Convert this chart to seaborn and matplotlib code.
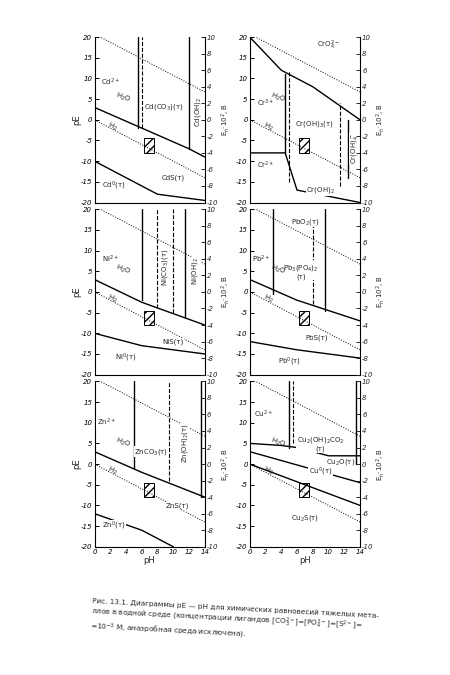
import matplotlib
matplotlib.use("Agg")
import matplotlib.pyplot as plt
import seaborn as sns
import numpy as np

sns.set_theme(style="white")
plt.rcParams['font.family'] = ['DejaVu Sans']

pH_ticks = [0, 2, 4, 6, 8, 10, 12, 14]
pE_ticks = [-20, -15, -10, -5, 0, 5, 10, 15, 20]
eh_ticks = [-10, -8, -6, -4, -2, 0, 2, 4, 6, 8, 10]

water_pH = [0, 14]
o2_pE = [20.75, 6.75]
h2_pE = [0, -14]

panels = [
    dict(solid=[([0, 6, 12, 14], [3, -2, -7, -9]), ([0, 4, 8, 14], [-10, -14, -18, -19.5]),
                ([5.5, 5.5], [-2, 20]), ([12, 12], [-7, 20])],
         dashed=[([6, 6], [-2, 20])],
         labels=[(2, 9, "Cd$^{2+}$", 0), (8.8, 3, "Cd(CO$_3$)(т)", 0), (10, -14, "CdS(т)", 0),
                 (2.5, -16, "Cd$^0$(т)", 0), (13.1, 2, "Cd(OH)$_2$", 90)]),
    dict(solid=[([0, 4, 8, 14], [20, 12, 8, 0]), ([0, 4.5, 6, 14], [-8, -8, -17, -20]),
                ([4.5, 4.5], [-8, 11]), ([12.5, 12.5], [-14, 0])],
         dashed=[([5, 5], [-15, 12]), ([11.5, 11.5], [-16, 4])],
         labels=[(2, 4, "Cr$^{3+}$", 0), (8.2, -1, "Cr(OH)$_3$(т)", 0), (2, -11, "Cr$^{2+}$", 0),
                 (9, -17, "Cr(OH)$_2$", 0), (10, 18, "CrO$_4^{2-}$", 0), (13.3, -7, "Cr(OH)$_4^-$", 90)]),
    dict(solid=[([0, 6, 14], [3, -2.5, -8]), ([0, 6, 14], [-10, -13, -15]),
                ([6, 6], [-2, 20]), ([11.5, 11.5], [-6, 20])],
         dashed=[([8, 8], [-4, 20]), ([10, 10], [-5, 20])],
         labels=[(2, 8, "Ni$^{2+}$", 0), (9, 6, "Ni(CO$_3$)(т)", 90), (10, -12, "NiS(т)", 0),
                 (4, -16, "Ni$^0$(т)", 0), (12.8, 5, "Ni(OH)$_2$", 90)]),
    dict(solid=[([0, 6, 14], [3, -2, -7]), ([0, 6, 14], [-12, -14, -16]),
                ([3, 3], [-0.5, 20]), ([9.5, 9.5], [-4.5, 20])],
         dashed=[([8, 8], [-3, 18])],
         labels=[(1.5, 8, "Pb$^{2+}$", 0), (6.5, 5, "Pb$_3$(PO$_4$)$_2$\n(т)", 0), (8.5, -11, "PbS(т)", 0),
                 (5, -17, "Pb$^0$(т)", 0), (7, 17, "PbO$_2$(т)", 0)]),
    dict(solid=[([0, 6, 14], [3, -2, -8]), ([0, 6, 10], [-12, -16, -20]),
                ([5, 5], [-1, 20]), ([13.5, 13.5], [-8, 20])],
         dashed=[([9.5, 9.5], [-4, 20])],
         labels=[(1.5, 10, "Zn$^{2+}$", 0), (7.2, 3, "ZnCO$_3$(т)", 0), (10.5, -10, "ZnS(т)", 0),
                 (2.5, -15, "Zn$^0$(т)", 0), (11.5, 5, "Zn(OH)$_2$(т)", 90)]),
    dict(solid=[([0, 4, 6, 10, 14], [5, 4.5, 4, 2, 2]), ([0, 14], [3, -4.5]),
                ([0, 14], [0, -10]), ([5, 5], [4, 20]), ([13.5, 13.5], [0, 20])],
         dashed=[([5.5, 5.5], [5, 20])],
         labels=[(1.8, 12, "Cu$^{2+}$", 0), (9, 5, "Cu$_2$(OH)$_2$CO$_2$\n(т)", 0),
                 (11.5, 0.5, "Cu$_2$O(т)", 0), (9, -2, "Cu$^0$(т)", 0), (7, -13, "Cu$_2$S(т)", 0)]),
]

fig = plt.figure(figsize=(4.5, 6.75), dpi=100)
fig.patch.set_facecolor("white")
lefts = [0.21, 0.555]
bottoms = [0.70, 0.445, 0.19]
w, h = 0.245, 0.245

for i, p in enumerate(panels):
    r, c = divmod(i, 2)
    ax = fig.add_axes([lefts[c], bottoms[r], w, h])
    ax.set_xlim(0, 14)
    ax.set_ylim(-20, 20)
    sns.lineplot(x=water_pH, y=o2_pE, ax=ax, color="black", lw=0.7, linestyle=":")
    sns.lineplot(x=water_pH, y=h2_pE, ax=ax, color="black", lw=0.7, linestyle=":")
    for xs, ys in p["solid"]:
        ax.plot(xs, ys, color="black", lw=1.0)
    for xs, ys in p["dashed"]:
        ax.plot(xs, ys, color="black", lw=0.8, linestyle="--")
    for x, y, t, rot in p["labels"]:
        ax.text(x, y, t, fontsize=5, ha="center", va="center", rotation=rot,
                bbox=dict(facecolor="white", edgecolor="none", pad=0.3))
    ax.text(2.5, 4.2, "H$_2$O", fontsize=5, rotation=-20)
    ax.text(1.5, -2.5, "H$_2$", fontsize=5, rotation=-20)
    ax.add_patch(plt.Rectangle((6.3, -8), 1.2, 3.5, fill=True, hatch="////",
                               facecolor="white", edgecolor="black", lw=0.7))
    ax.set_yticks(pE_ticks)
    ax.set_yticklabels([str(t) for t in pE_ticks], fontsize=5, style="italic")
    for s in ["top", "right"]:
        ax.spines[s].set_visible(False)
    for s in ["left", "bottom"]:
        ax.spines[s].set_linewidth(0.8)
        ax.spines[s].set_color("black")
    ax.tick_params(axis="both", direction="in", length=3, width=0.7, pad=1.5, colors="black")
    if c == 0:
        ax.set_ylabel("pE", fontsize=6, labelpad=0)
    ax.set_xticks(pH_ticks)
    if r == 2:
        ax.set_xticklabels([str(t) for t in pH_ticks], fontsize=5, style="italic")
        ax.set_xlabel("pH", fontsize=6, labelpad=1)
    else:
        ax.set_xticklabels([])
    ax2 = ax.twinx()
    ax2.set_ylim(-10, 10)
    ax2.set_yticks(eh_ticks)
    ax2.set_yticklabels([str(t) for t in eh_ticks], fontsize=5, style="italic")
    ax2.tick_params(axis="y", direction="in", length=3, width=0.7, pad=1.5)
    for s in ["top", "left", "bottom"]:
        ax2.spines[s].set_visible(False)
    ax2.spines["right"].set_color("black")
    ax2.spines["right"].set_linewidth(0.8)
    ax2.set_ylabel("E$_h$·10$^2$, В", fontsize=5, labelpad=1)
    ax2.grid(False)
    ax.grid(False)

fig.text(0.2, 0.115,
         "Рис. 13.1. Диаграммы pE — pH для химических равновесий тяжелых мета-\n"
         "ллов в водной среде (концентрации лигандов [CO$_3^{2-}$]=[PO$_4^{3-}$]=[S$^{2-}$]=\n"
         "=10$^{-3}$ М, анаэробная среда исключена).",
         fontsize=5.2, ha="left", va="top", rotation=-3)

fig.savefig("out.png", dpi=100, facecolor="white")
